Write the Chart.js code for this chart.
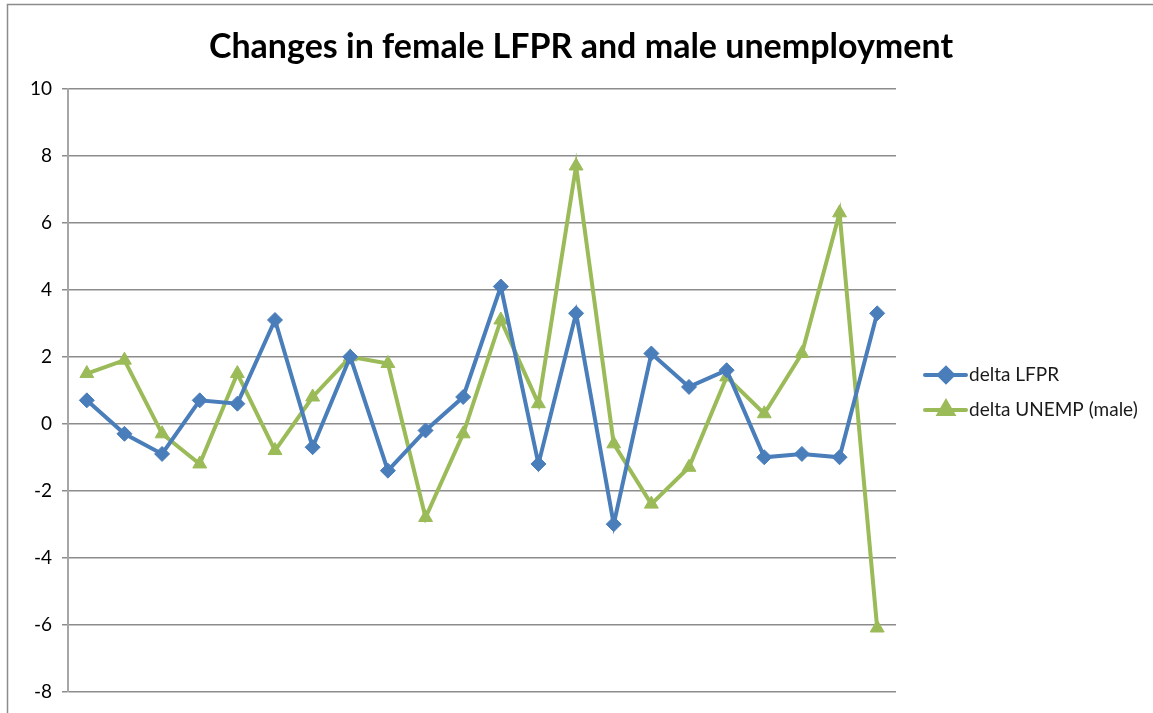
<!DOCTYPE html>
<html>
<head>
  <meta charset="utf-8">
  <title>Changes in female LFPR and male unemployment</title>
  <script src="https://cdn.jsdelivr.net/npm/chart.js@4.4.1/dist/chart.umd.min.js"></script>
  <style>
    html, body { margin: 0; padding: 0; background: #fff; }
    #wrap { width: 1153px; height: 713px; }
  </style>
</head>
<body>
  <div id="wrap">
    <canvas id="chart" width="1153" height="713"></canvas>
  </div>

  <script>
    // categories (no labels shown on the x axis in the original)
    var periods = ['1', '2', '3', '4', '5', '6', '7', '8', '9', '10', '11',
                   '12', '13', '14', '15', '16', '17', '18', '19', '20', '21', '22'];

    var deltaLFPR = [0.7, -0.3, -0.9, 0.7, 0.6, 3.1, -0.7, 2.0, -1.4, -0.2, 0.8,
                     4.1, -1.2, 3.3, -3.0, 2.1, 1.1, 1.6, -1.0, -0.9, -1.0, 3.3];

    var deltaUnempMale = [1.5, 1.9, -0.3, -1.2, 1.5, -0.8, 0.8, 2.0, 1.8, -2.8, -0.3,
                          3.1, 0.6, 7.7, -0.6, -2.4, -1.3, 1.4, 0.3, 2.1, 6.3, -6.1];

    var yTicks = [-8, -6, -4, -2, 0, 2, 4, 6, 8, 10];

    var chartTitle = 'Changes in female LFPR and male unemployment';

    var blue = '#4a7ebb', green = '#9bbb59';
    var fontFamily = 'Lato, "Open Sans", sans-serif';

    // white page, grey frame of the chart object and the centred title
    var framePlugin = {
      id: 'frame',
      beforeDraw: function(chart) {
        var ctx = chart.ctx;
        ctx.save();
        ctx.fillStyle = '#fff';
        ctx.fillRect(0, 0, chart.width, chart.height);
        ctx.strokeStyle = '#8c8c8c';
        ctx.lineWidth = 1.5;
        ctx.strokeRect(7.5, 4.5, chart.width + 20, chart.height + 20);
        ctx.fillStyle = '#000';
        ctx.font = 'bold 34px ' + fontFamily;
        ctx.textAlign = 'center';
        ctx.textBaseline = 'middle';
        ctx.fillText(chartTitle, 581, 47);
        ctx.restore();
      }
    };

    // legend to the right, line + marker like the spreadsheet one
    var sideLegend = {
      id: 'sideLegend',
      afterDraw: function(chart) {
        var ctx = chart.ctx;
        var x0 = chart.chartArea.right + 29;
        var y0 = 375;
        ctx.save();
        chart.data.datasets.forEach(function(ds, i) {
          var y = y0 + i * 35;
          ctx.strokeStyle = ds.borderColor;
          ctx.lineWidth = 4;
          ctx.lineCap = 'round';
          ctx.beginPath();
          ctx.moveTo(x0, y);
          ctx.lineTo(x0 + 41, y);
          ctx.stroke();
          ctx.fillStyle = ds.borderColor;
          Chart.helpers.drawPoint(ctx, {
            pointStyle: ds.pointStyle,
            radius: ds.pointStyle === 'triangle' ? 8 : 7,
            rotation: 0,
            borderWidth: 1
          }, x0 + 21, y);
          ctx.fillStyle = '#1a1a1a';
          ctx.font = '19px ' + fontFamily;
          ctx.textBaseline = 'middle';
          ctx.textAlign = 'left';
          ctx.fillText(ds.label, x0 + 44, y);
        });
        ctx.restore();
      }
    };

    var config = {
      type: 'line',
      data: {
        labels: periods,
        datasets: [
          {
            label: 'delta LFPR',
            data: deltaLFPR,
            borderColor: blue,
            backgroundColor: blue,
            borderWidth: 4,
            pointStyle: 'rectRot',
            pointRadius: 7.5,
            pointBorderWidth: 1,
            pointBorderColor: blue,
            pointBackgroundColor: blue,
            lineTension: 0,
            fill: false
          },
          {
            label: 'delta UNEMP (male)',
            data: deltaUnempMale,
            borderColor: green,
            backgroundColor: green,
            borderWidth: 4,
            pointStyle: 'triangle',
            pointRadius: 8,
            pointBorderWidth: 1,
            pointBorderColor: green,
            pointBackgroundColor: green,
            lineTension: 0,
            fill: false
          }
        ]
      },
      options: {
        responsive: false,
        animation: false,
        layout: {
          padding: { left: 8, right: 257, top: 89, bottom: 21 }
        },
        plugins: {
          legend: { display: false },
          tooltip: { enabled: false },
          title: { display: false }
        },
        scales: {
          x: {
            type: 'category',
            offset: true,
            display: false
          },
          y: {
            min: -8,
            max: 10,
            afterFit: function(scale) { scale.width = 60; },
            afterBuildTicks: function(scale) {
              scale.ticks = yTicks.map(function(v) { return { value: v }; });
            },
            ticks: {
              color: '#000',
              padding: 10,
              font: { family: fontFamily, size: 19 }
            },
            grid: {
              color: '#8c8c8c',
              lineWidth: 1.5,
              tickLength: 6,
              drawTicks: true
            },
            border: {
              display: true,
              color: '#a6a6a6',
              width: 2
            }
          }
        }
      },
      plugins: [framePlugin, sideLegend]
    };

    var chart = new Chart(document.getElementById('chart').getContext('2d'), config);
  </script>
</body>
</html>
